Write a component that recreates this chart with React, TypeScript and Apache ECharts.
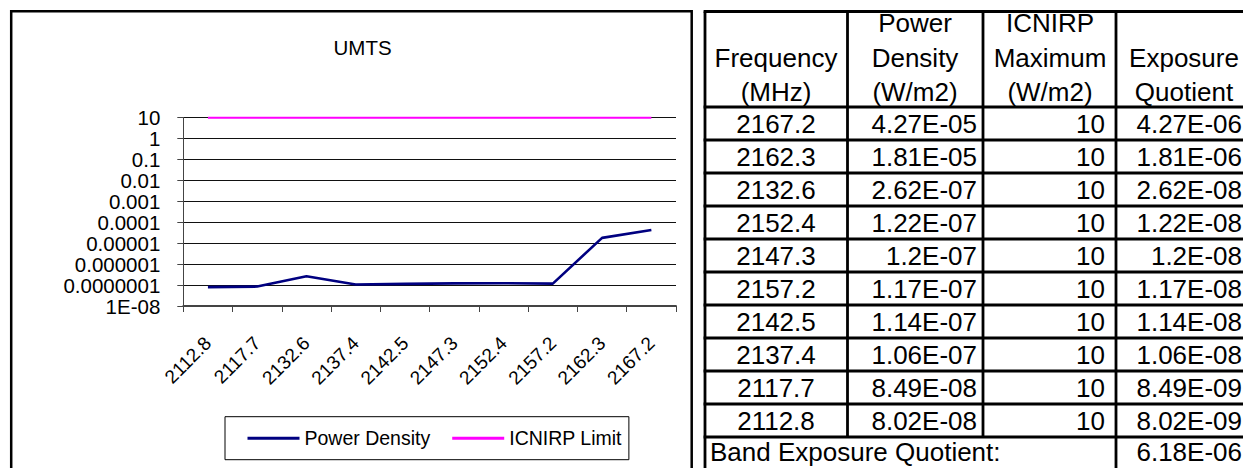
import React, { useEffect, useRef } from "react";
import * as echarts from "echarts";

// ---------- chart data ----------
const categories = ["2112.8", "2117.7", "2132.6", "2137.4", "2142.5", "2147.3", "2152.4", "2157.2", "2162.3", "2167.2"];
const powerDensity = [8.02e-8, 8.49e-8, 2.62e-7, 1.06e-7, 1.14e-7, 1.2e-7, 1.22e-7, 1.17e-7, 1.81e-5, 4.27e-5];
const icnirpLimit = [10, 10, 10, 10, 10, 10, 10, 10, 10, 10];
const yTickLabels = ["10", "1", "0.1", "0.01", "0.001", "0.0001", "0.00001", "0.000001", "0.0000001", "1E-08"];
const chartTitle = "UMTS";
const seriesNames = ["Power Density", "ICNIRP Limit"];

// ---------- table data ----------
const tableHeaders = [
  ["Frequency", "(MHz)"],
  ["Power", "Density", "(W/m2)"],
  ["ICNIRP", "Maximum", "(W/m2)"],
  ["Exposure", "Quotient"],
];
const tableFrequency = ["2167.2", "2162.3", "2132.6", "2152.4", "2147.3", "2157.2", "2142.5", "2137.4", "2117.7", "2112.8"];
const tablePowerDensity = ["4.27E-05", "1.81E-05", "2.62E-07", "1.22E-07", "1.2E-07", "1.17E-07", "1.14E-07", "1.06E-07", "8.49E-08", "8.02E-08"];
const tableMaximum = ["10", "10", "10", "10", "10", "10", "10", "10", "10", "10"];
const tableQuotient = ["4.27E-06", "1.81E-06", "2.62E-08", "1.22E-08", "1.2E-08", "1.17E-08", "1.14E-08", "1.06E-08", "8.49E-09", "8.02E-09"];
const bandLabel = "Band Exposure Quotient:";
const bandQuotient = "6.18E-06";

const FONT = "Arial, 'Liberation Sans', sans-serif";

function buildTableGraphics(): any[] {
  const els: any[] = [];
  const colX = [705, 847.5, 983, 1116, 1251];
  const top = 11.5;
  const headBottom = 107;
  const rowH = 33;
  const nRows = tableFrequency.length;
  const lineStyle = { stroke: "#000", lineWidth: 2.8 };
  const fs = 26;

  // horizontal lines
  const hy = [top, headBottom];
  for (let i = 1; i <= nRows + 1; i++) hy.push(headBottom + rowH * i);
  hy.forEach((y) => {
    els.push({ type: "line", shape: { x1: colX[0] - 1.4, y1: y, x2: colX[4], y2: y }, style: lineStyle, z: 10 });
  });
  // vertical lines
  const bottomAll = headBottom + rowH * (nRows + 1) + 5;
  const bottomData = headBottom + rowH * nRows;
  [colX[0], colX[3], colX[4]].forEach((x) => {
    els.push({ type: "line", shape: { x1: x, y1: top, x2: x, y2: bottomAll }, style: lineStyle, z: 10 });
  });
  [colX[1], colX[2]].forEach((x) => {
    els.push({ type: "line", shape: { x1: x, y1: top, x2: x, y2: bottomData }, style: lineStyle, z: 10 });
  });

  // header texts (bottom aligned lines)
  const lineCenters = [23, 57.5, 91.5];
  const colCenters = [776, 915, 1050, 1184];
  tableHeaders.forEach((lines, c) => {
    const offset = 3 - lines.length;
    lines.forEach((t, k) => {
      els.push({
        type: "text",
        x: colCenters[c],
        y: lineCenters[k + offset],
        style: { text: t, fill: "#000", font: `${fs}px ${FONT}`, align: "center", verticalAlign: "middle" },
        z: 11,
      });
    });
  });

  // data rows
  for (let i = 0; i < nRows; i++) {
    const cy = headBottom + rowH * (i + 0.5);
    const txt = (text: string, x: number, align: string) => ({
      type: "text",
      x,
      y: cy,
      style: { text, fill: "#000", font: `${fs}px ${FONT}`, align, verticalAlign: "middle" },
      z: 11,
    });
    els.push(txt(tableFrequency[i], colCenters[0], "center"));
    els.push(txt(tablePowerDensity[i], 977, "right"));
    els.push(txt(tableMaximum[i], 1105, "right"));
    els.push(txt(tableQuotient[i], 1242, "right"));
  }
  const by = headBottom + rowH * (nRows + 0.5) - 2;
  els.push({
    type: "text",
    x: 710,
    y: by,
    style: { text: bandLabel, fill: "#000", font: `${fs}px ${FONT}`, align: "left", verticalAlign: "middle" },
    z: 11,
  });
  els.push({
    type: "text",
    x: 1242,
    y: by,
    style: { text: bandQuotient, fill: "#000", font: `${fs}px ${FONT}`, align: "right", verticalAlign: "middle" },
    z: 11,
  });
  return els;
}

export default function App() {
  const ref = useRef<HTMLDivElement>(null);

  useEffect(() => {
    if (!ref.current) return;
    const chart = echarts.init(ref.current, null, { renderer: "svg" });
    const option: any = {
      animation: false,
      backgroundColor: "#fff",
      textStyle: { fontFamily: FONT },
      title: {
        text: chartTitle,
        left: 328.5,
        top: 32,
        textStyle: { fontFamily: FONT, fontSize: 20.5, fontWeight: "normal", color: "#000" },
      },
      legend: {
        data: seriesNames,
        left: 225,
        top: 416.7,
        orient: "horizontal",
        icon: "rect",
        itemWidth: 52,
        itemHeight: 3,
        itemGap: 22,
        padding: [11.5, 7, 11.5, 22.5],
        borderColor: "#000",
        borderWidth: 1,
        textStyle: { fontFamily: FONT, fontSize: 19.5, color: "#000" },
      },
      grid: {
        left: 183.3,
        top: 117.7,
        width: 492.7,
        height: 188.3,
        containLabel: false,
        outerBoundsMode: "none",
      },
      xAxis: {
        type: "category",
        data: categories,
        boundaryGap: true,
        axisLine: { show: true, lineStyle: { color: "#444", width: 1.8 } },
        axisTick: { show: true, length: 6, inside: false, alignWithLabel: false, lineStyle: { color: "#444", width: 1 } },
        axisLabel: {
          interval: 0,
          rotate: 45,
          margin: 34,
          fontFamily: FONT,
          fontSize: 19,
          color: "#000",
        },
        splitLine: { show: false },
      },
      yAxis: {
        type: "log",
        logBase: 10,
        min: 1e-8,
        max: 10,
        splitNumber: 10,
        axisLine: { show: true, lineStyle: { color: "#444", width: 1 } },
        axisTick: { show: true, length: 6, inside: false, lineStyle: { color: "#444", width: 1 } },
        splitLine: { show: true, lineStyle: { color: "#111", width: 1 } },
        axisLabel: {
          margin: 23,
          fontFamily: FONT,
          fontSize: 20.5,
          color: "#000",
          formatter: (v: number) => {
            const e = Math.round(Math.log10(v));
            const idx = 1 - e;
            return yTickLabels[idx] !== undefined ? yTickLabels[idx] : "";
          },
        },
      },
      series: [
        {
          name: seriesNames[0],
          type: "line",
          data: powerDensity,
          symbol: "none",
          color: "#000080",
          lineStyle: { color: "#000080", width: 2.6 },
          itemStyle: { color: "#000080" },
          z: 3,
        },
        {
          name: seriesNames[1],
          type: "line",
          data: icnirpLimit,
          symbol: "none",
          color: "#FF00FF",
          lineStyle: { color: "#FF00FF", width: 2.2 },
          itemStyle: { color: "#FF00FF" },
          z: 4,
        },
      ],
      graphic: [
        {
          type: "rect",
          shape: { x: 11.2, y: 11.2, width: 680.5, height: 470 },
          style: { fill: "none", stroke: "#000", lineWidth: 2.5 },
          z: 5,
        },
        ...buildTableGraphics(),
      ],
    };
    chart.setOption(option);
    return () => {
      chart.dispose();
    };
  }, []);

  return (
    <div
      ref={ref}
      style={{ position: "fixed", left: 0, top: 0, width: 1243, height: 468, background: "#fff" }}
    />
  );
}
